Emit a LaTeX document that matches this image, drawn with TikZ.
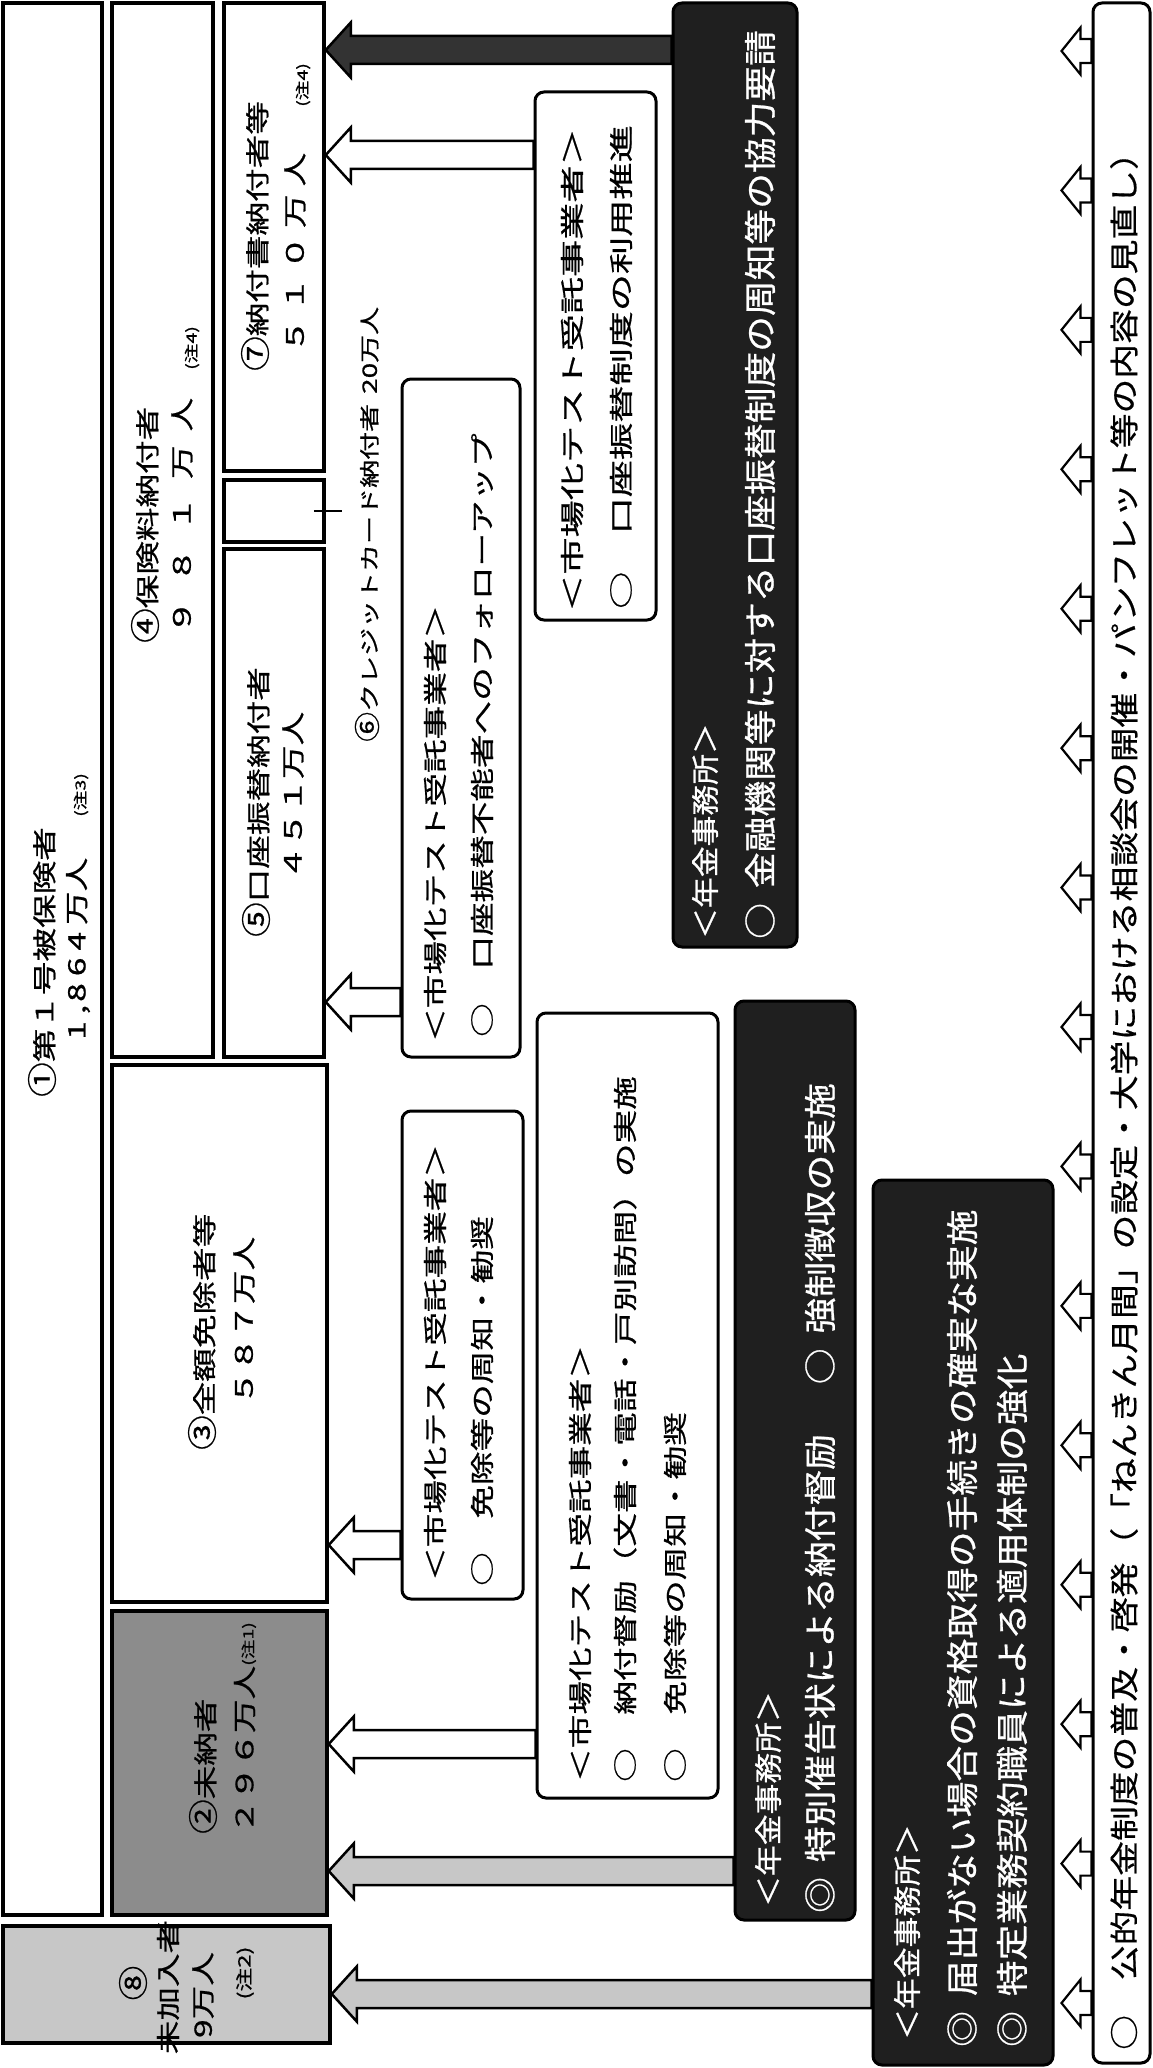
\documentclass[tikz,border=0pt]{standalone}
\usepackage{fontspec}
\setmainfont{Noto Sans CJK JP}
\newfontfamily\jpA[FakeStretch=1.4,FakeBold=0.8]{Noto Sans CJK JP}
\newfontfamily\jpB[FakeStretch=1.1,FakeBold=0.8]{Noto Sans CJK JP}
\newfontfamily\jpC[FakeStretch=1.2,FakeBold=0.6]{Noto Sans CJK JP}
\newfontfamily\jpD[FakeStretch=1.55,FakeBold=0.8]{Noto Sans CJK JP}
\newfontfamily\jpE[FakeStretch=1.15,FakeBold=0.8]{Noto Sans CJK JP}
\newcommand{\cn}[1]{{\jpE\fontsize{30}{30}\selectfont #1}}
\usetikzlibrary{fit,calc}
\tikzset{
  ibox/.style={draw, line width=3.5pt, inner sep=0pt},
  rbox/.style={draw, line width=3pt, rounded corners=9pt, inner sep=0pt, fill=white},
  dbox/.style={draw, line width=3pt, rounded corners=9pt, inner sep=0pt, fill=black!88},
  warrow/.style={draw, line width=2.5pt, fill=white},
  karrow/.style={draw, line width=2.5pt, fill=black!80},
  garrow/.style={draw, line width=2.5pt, fill=black!22},
  la/.style={rotate=90, anchor=west, inner sep=0pt, font=\jpA\fontsize{24}{24}\selectfont},
  lw/.style={rotate=90, anchor=west, inner sep=0pt, font=\jpD\fontsize{24}{24}\selectfont},
  lac/.style={rotate=90, anchor=center, inner sep=0pt, font=\jpA\fontsize{24}{24}\selectfont},
  ls/.style={rotate=90, anchor=west, inner sep=0pt, font=\jpA\fontsize{14}{14}\selectfont},
  lsc/.style={rotate=90, anchor=center, inner sep=0pt, font=\jpA\fontsize{17}{17}\selectfont},
  ll/.style={rotate=90, anchor=west, inner sep=0pt, font=\jpA\fontsize{20}{20}\selectfont},
  ld/.style={rotate=90, anchor=west, inner sep=0pt, text=white, font=\jpB\fontsize{32.5}{32.5}\selectfont},
  ldh/.style={rotate=90, anchor=west, inner sep=0pt, text=white, font=\jpB\fontsize{28}{28}\selectfont},
  lb/.style={rotate=90, anchor=west, inner sep=0pt, font=\jpC\fontsize{29}{29}\selectfont},
}
% #1 style, #2 target node (tip), #3 source node (tail), #4 image y
\newcommand{\bigarrow}[4]{%
  \draw[#1] (#2.east |- 0,-#4)
    -- ($(#2.east |- 0,-#4)+(25,27.5)$)
    -- ($(#2.east |- 0,-#4)+(25,14)$)
    -- (#3.west |- 0,-#4+14)
    -- (#3.west |- 0,-#4-14)
    -- ($(#2.east |- 0,-#4)+(25,-14)$)
    -- ($(#2.east |- 0,-#4)+(25,-27.5)$)
    -- cycle;}
% #1 source node, #2 image y
\newcommand{\smallarrow}[2]{%
  \draw[warrow, line width=2.2pt] ($(#1.west |- 0,-#2)+(-30,0)$)
    -- ($(#1.west |- 0,-#2)+(-11,23.5)$)
    -- ($(#1.west |- 0,-#2)+(-11,12)$)
    -- (#1.west |- 0,-#2+12)
    -- (#1.west |- 0,-#2-12)
    -- ($(#1.west |- 0,-#2)+(-11,-12)$)
    -- ($(#1.west |- 0,-#2)+(-11,-23.5)$)
    -- cycle;}
\begin{document}
\begin{tikzpicture}[x=1pt,y=1pt]
\useasboundingbox (0,0) rectangle (1153,-2068);
% population boxes
\node[ibox, fit={(3,-3) (102,-1915)}] (n1) {};
\node[ibox, fit={(112,-3) (213,-1057)}] (n4) {};
\node[ibox, fit={(224,-3) (324,-471)}] (n7) {};
\node[ibox, fit={(224,-480) (324,-542)}] (n6) {};
\node[ibox, fit={(224,-549) (324,-1057)}] (n5) {};
\node[ibox, fit={(112,-1065) (327,-1602)}] (n3) {};
\node[ibox, fill=black!45, fit={(112,-1611) (327,-1915)}] (n2) {};
\node[ibox, fill=black!22, fit={(3,-1926) (330,-2043)}] (n8) {};
% measure boxes
\node[rbox, fit={(535,-92) (656,-620)}] (m4) {};
\node[rbox, fit={(402,-379) (520,-1057)}] (m5) {};
\node[rbox, fit={(402,-1111) (523,-1599)}] (m6) {};
\node[rbox, fit={(537,-1013) (718,-1798)}] (m7) {};
\node[dbox, fit={(673,-3) (797,-947)}] (d1) {};
\node[dbox, fit={(735,-1001) (855,-1920)}] (d2) {};
\node[dbox, fit={(873,-1180) (1053,-2065)}] (d3) {};
\node[rbox, fit={(1093,-3) (1150,-2063)}] (bn) {};
% arrows
\bigarrow{karrow}{n7}{d1}{50}
\bigarrow{warrow}{n7}{m4}{155}
\bigarrow{warrow}{n5}{m5}{1002}
\bigarrow{warrow}{n3}{m6}{1545}
\bigarrow{warrow}{n2}{m7}{1744}
\bigarrow{garrow}{n2}{d2}{1871}
\bigarrow{garrow}{n8}{d3}{1994}
\foreach \k in {0,...,14} {\pgfmathsetmacro\yy{51+\k*139.43}\smallarrow{bn}{\yy}}
% leader of credit card payers
\draw[line width=1.5pt] ($(n6.east)+(-12,0)$) -- ($(n6.east)+(16,0)$);
% population texts
\node[la] (t1a) at (42,-1097) {\cn{①}第１号被保険者};
\node[la] (t1b) at (78,-1040) {1\kern7pt,\kern3pt 8\kern7pt 6\kern7pt 4\kern7pt 万人};
\node[ls] (t1c) at (81,-817) {(注3)};
\node[la] (t4a) at (145,-643) {\cn{④}保険料納付者};
\node[la] (t4b) at (182,-634) {９\kern18pt ８\kern18pt １\kern18pt 万\kern14pt 人};
\node[ls] (t4c) at (192,-370) {(注4)};
\node[la] (t7a) at (255,-371) {\cn{⑦}納付書納付者等};
\node[la] (t7b) at (295,-353) {５\kern8pt １\kern8pt ０\kern8pt 万\kern8pt 人};
\node[ls] (t7c) at (303,-107) {(注4)};
\node[la] (t5a) at (256,-937) {\cn{⑤}口座振替納付者};
\node[la] (t5b) at (293,-880) {４５１万人};
\node[ll] (t6) at (367,-742) {{\jpE\fontsize{26}{26}\selectfont ⑥}クレジットカード納付者\kern10pt 20万人};
\node[la] (t3a) at (202,-1450) {\cn{③}全額免除者等};
\node[la] (t3b) at (244,-1405) {５８７万人};
\node[la] (t2a) at (203,-1834) {\cn{②}未納者};
\node[la] (t2b) at (245,-1834) {２９６万人{\fontsize{14}{14}\selectfont(注1)}};
\node[lac] (t8a) at (133,-1983) {\cn{⑧}};
\node[lac] (t8b) at (168,-1987) {未加入者};
\node[lac] (t8c) at (203,-1995) {9万人};
\node[lsc] (t8d) at (245,-1973) {(注2)};
% measure texts
\node[lw] (m4a) at (572,-612) {＜市場化テスト受託事業者＞};
\node[lw] (m4b) at (621,-609) {○　口座振替制度の利用推進};
\node[la] (m5a) at (435,-1042) {＜市場化テスト受託事業者＞};
\node[la] (m5b) at (482,-1037) {○　口座振替不能者へのフォローアップ};
\node[la] (m6a) at (435,-1581) {＜市場化テスト受託事業者＞};
\node[la] (m6b) at (482,-1586) {○　免除等の周知・勧奨};
\node[la] (m7a) at (580,-1782) {＜市場化テスト受託事業者＞};
\node[la] (m7b) at (625,-1782) {○　納付督励（文書・電話・戸別訪問）の実施};
\node[la] (m7c) at (675,-1782) {○　免除等の周知・勧奨};
\node[ldh] (d1a) at (705,-939) {＜年金事務所＞};
\node[ld] (d1b) at (760,-939) {○\kern15pt 金融機関等に対する口座振替制度の周知等の協力要請};
\node[ldh] (d2a) at (768,-1907) {＜年金事務所＞};
\node[ld] (d2b) at (820,-1913) {◎\kern15pt 特別催告状による納付督励\kern50pt ○\kern15pt 強制徴収の実施};
\node[ldh] (d3a) at (907,-2040) {＜年金事務所＞};
\node[ld] (d3b) at (962,-2047) {◎\kern15pt 届出がない場合の資格取得の手続きの確実な実施};
\node[ld] (d3c) at (1012,-2047) {◎\kern15pt 特定業務契約職員による適用体制の強化};
\node[lb] (bt) at (1124,-2050) {○　公的年金制度の普及・啓発（「ねんきん月間」の設定・大学における相談会の開催・パンフレット等の内容の見直し）};
\end{tikzpicture}
\end{document}
